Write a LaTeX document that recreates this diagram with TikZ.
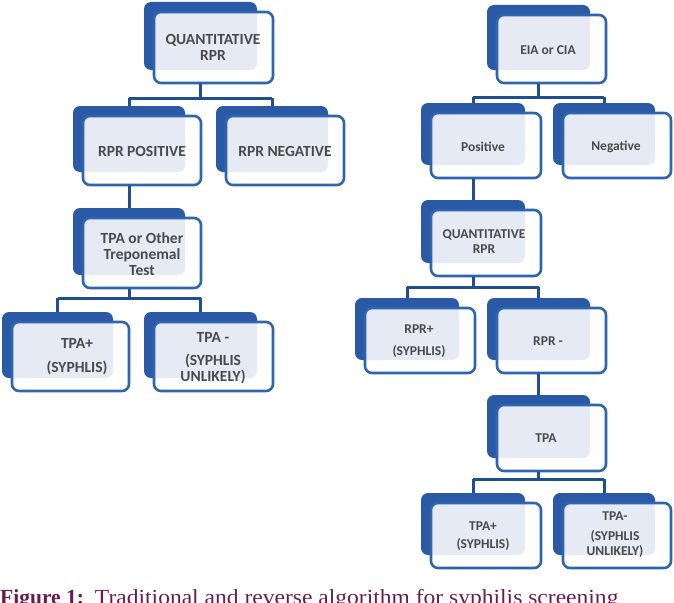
\documentclass[tikz,border=0pt]{standalone}
\usepackage{fontspec}
\setmainfont{Liberation Serif}
\newfontfamily\boxfont{Carlito}
\newfontfamily\capreg[FakeStretch=1.095]{Liberation Serif}
\definecolor{backblue}{HTML}{2A5AA5}
\definecolor{edgeblue}{HTML}{2E64B0}
\definecolor{linkblue}{HTML}{1F4F8F}
\definecolor{txtgrey}{HTML}{4A4A4A}
\definecolor{capcol}{HTML}{6A1B4D}
\tikzset{
  backbox/.style={fill=backblue, draw=none, rounded corners=7pt, inner sep=0pt},
  frontbox/.style={fill=white, fill opacity=0.88, draw=edgeblue, draw opacity=1, line width=2.6pt, rounded corners=7pt, inner sep=0pt},
  conn/.style={draw=linkblue, line width=3pt},
  bigtxt/.style={text=txtgrey, align=center, inner sep=0pt, font=\boxfont\bfseries\fontsize{15.5}{16}\selectfont},
  smalltxt/.style={text=txtgrey, align=center, inner sep=0pt, font=\boxfont\bfseries\fontsize{13.5}{15}\selectfont},
}
% #1 name, #2-#5 back box corners, #6,#7 text centre, #8 text style, #9 text
\newcommand\tbox[9]{%
  \node[backbox, minimum width={(#4-#2)*1pt}, minimum height={(#5-#3)*1pt}] (#1b) at ({(#2+#4)/2},{(#3+#5)/2}) {};
  \node[frontbox, minimum width={(#4-#2+6)*1pt}, minimum height={(#5-#3+3)*1pt}] (#1) at ({(#2+#4)/2+13},{(#3+#5)/2+11.5}) {};
  \node[#8] (#1t) at (#6,#7) {#9};
}
\begin{document}
\begin{tikzpicture}[x=1pt,y=-1pt]
\useasboundingbox (0,0) rectangle (674,602);
% left tree
\tbox{qa}{144}{2}{257}{70}{213}{47}{bigtxt}{QUANTITATIVE\\RPR}
\tbox{rp}{73}{106}{185}{172}{142}{151}{bigtxt}{RPR POSITIVE}
\tbox{rn}{216}{106}{328}{172}{285}{151}{bigtxt}{RPR NEGATIVE}
\tbox{tp}{73}{208}{185}{275}{142}{254}{bigtxt}{TPA or Other\\Treponemal\\Test}
\tbox{tpp}{2}{312}{113}{378}{77}{357}{bigtxt}{TPA+\\[8pt](SYPHLIS)}
\tbox{tpn}{144}{312}{257}{378}{213}{358}{bigtxt}{TPA -\\[7pt](SYPHLIS\\UNLIKELY)}
% right tree
\tbox{eia}{487}{5}{590}{70}{548}{50}{smalltxt}{EIA or CIA}
\tbox{pos}{421}{103}{525}{165}{483}{147}{smalltxt}{Positive}
\tbox{neg}{553}{103}{655}{165}{616}{147}{smalltxt}{Negative}
\tbox{qb}{421}{200}{525}{263}{484}{242}{smalltxt}{QUANTITATIVE\\RPR}
\tbox{rpp}{355}{298}{459}{360}{419}{341}{smalltxt}{RPR+\\[7pt](SYPHLIS)}
\tbox{rpm}{487}{298}{590}{360}{548}{341}{smalltxt}{RPR -}
\tbox{tpa}{487}{395}{590}{458}{546}{438}{smalltxt}{TPA}
\tbox{tap}{421}{493}{525}{555}{483}{536}{smalltxt}{TPA+\\[3pt](SYPHLIS)}
\tbox{tan}{553}{493}{655}{555}{615}{535}{smalltxt}{TPA-\\[5pt](SYPHLIS\\UNLIKELY)}
% junction levels
\coordinate (ja) at (0,98);
\coordinate (jb) at (0,298);
\coordinate (jc) at (0,97);
\coordinate (jd) at (0,287);
\coordinate (je) at (0,479);
% connectors left
\draw[conn] (qab |- qa.south) -- (qab |- ja);
\draw[conn] (rpb |- ja) -- (rnb |- ja);
\draw[conn] (rpb |- ja) -- (rpb.north);
\draw[conn] (rnb |- ja) -- (rnb.north);
\draw[conn] (rpb |- rp.south) -- (tpb.north);
\draw[conn] (tpb |- tp.south) -- (tpb |- jb);
\draw[conn] (tppb |- jb) -- (tpnb |- jb);
\draw[conn] (tppb |- jb) -- (tppb.north);
\draw[conn] (tpnb |- jb) -- (tpnb.north);
% connectors right
\draw[conn] (eiab |- eia.south) -- (eiab |- jc);
\draw[conn] (posb |- jc) -- (negb |- jc);
\draw[conn] (posb |- jc) -- (posb.north);
\draw[conn] (negb |- jc) -- (negb.north);
\draw[conn] (posb |- pos.south) -- (qbb.north);
\draw[conn] (qbb |- qb.south) -- (qbb |- jd);
\draw[conn] (rppb |- jd) -- (rpmb |- jd);
\draw[conn] (rppb |- jd) -- (rppb.north);
\draw[conn] (rpmb |- jd) -- (rpmb.north);
\draw[conn] (rpmb |- rpm.south) -- (tpab.north);
\draw[conn] (tpab |- tpa.south) -- (tpab |- je);
\draw[conn] (tapb |- je) -- (tanb |- je);
\draw[conn] (tapb |- je) -- (tapb.north);
\draw[conn] (tanb |- je) -- (tanb.north);
% caption
\node[anchor=base west, inner sep=0pt, text=capcol, font=\fontsize{21.5}{24}\selectfont] (cap) at (0,604) {\textbf{Figure 1:}\hspace{11pt}{\capreg Traditional and reverse algorithm for syphilis screening}};
\end{tikzpicture}
\end{document}
